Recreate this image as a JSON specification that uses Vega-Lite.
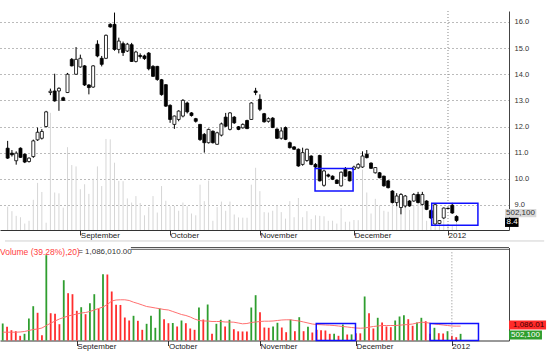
{
  "$schema": "https://vega.github.io/schema/vega-lite/v6.json",
  "background": "white",
  "padding": {"left": 0, "top": 10, "right": 0, "bottom": 0},
  "config": {"font": "Liberation Sans", "view": {"stroke": null}, "axis": {"labelFont": "Liberation Sans"}},
  "spacing": 4.5,
  "datasets": {
    "px": [
      {"i":0,"o":11.17,"h":11.45,"l":10.76,"c":10.79,"v":1282,"vc":"up","ma":626},
      {"i":1,"o":10.98,"h":11.1,"l":10.85,"c":10.92,"v":1033,"vc":"down","ma":626},
      {"i":2,"o":10.69,"h":11.05,"l":10.54,"c":10.98,"v":777,"vc":"down","ma":626},
      {"i":3,"o":11.17,"h":11.2,"l":10.8,"c":10.82,"v":701,"vc":"down","ma":626},
      {"i":4,"o":10.94,"h":10.97,"l":10.6,"c":10.64,"v":354,"vc":"down","ma":641},
      {"i":5,"o":10.66,"h":10.82,"l":10.62,"c":10.79,"v":505,"vc":"up","ma":679},
      {"i":6,"o":10.85,"h":11.5,"l":10.8,"c":11.45,"v":1659,"vc":"up","ma":754},
      {"i":7,"o":11.49,"h":11.96,"l":11.45,"c":11.78,"v":2586,"vc":"up","ma":829},
      {"i":8,"o":11.55,"h":11.9,"l":11.5,"c":11.81,"v":2089,"vc":"down","ma":867},
      {"i":9,"o":12.0,"h":12.6,"l":11.96,"c":12.56,"v":400,"vc":"down","ma":943},
      {"i":10,"o":13.3,"h":13.45,"l":13.2,"c":13.35,"v":6432,"vc":"up","ma":1131},
      {"i":11,"o":13.36,"h":14.02,"l":12.95,"c":12.98,"v":2058,"vc":"down","ma":1304},
      {"i":12,"o":13.36,"h":13.5,"l":12.6,"c":13.46,"v":2013,"vc":"down","ma":1470},
      {"i":13,"o":13.1,"h":13.14,"l":12.98,"c":13.0,"v":1229,"vc":"down","ma":1621},
      {"i":14,"o":13.3,"h":14.05,"l":13.28,"c":14.0,"v":4547,"vc":"up","ma":1734},
      {"i":15,"o":14.57,"h":14.62,"l":14.3,"c":14.32,"v":3566,"vc":"down","ma":1847},
      {"i":16,"o":14.0,"h":15.04,"l":13.98,"c":14.57,"v":3491,"vc":"down","ma":1923},
      {"i":17,"o":14.28,"h":14.75,"l":14.25,"c":14.61,"v":2239,"vc":"down","ma":1998},
      {"i":18,"o":14.32,"h":14.35,"l":13.55,"c":13.59,"v":2511,"vc":"up","ma":2074},
      {"i":19,"o":13.59,"h":13.62,"l":13.23,"c":13.49,"v":1983,"vc":"down","ma":2111},
      {"i":20,"o":13.51,"h":14.35,"l":13.48,"c":14.32,"v":2812,"vc":"up","ma":2187},
      {"i":21,"o":15.15,"h":15.3,"l":14.65,"c":14.7,"v":3491,"vc":"up","ma":2300},
      {"i":22,"o":14.61,"h":14.7,"l":14.3,"c":14.38,"v":2413,"vc":"down","ma":2413},
      {"i":23,"o":14.61,"h":15.52,"l":14.58,"c":15.49,"v":4999,"vc":"up","ma":2526},
      {"i":24,"o":15.91,"h":15.95,"l":15.78,"c":15.81,"v":4976,"vc":"down","ma":2714},
      {"i":25,"o":15.91,"h":16.36,"l":14.9,"c":14.95,"v":3695,"vc":"down","ma":2978},
      {"i":26,"o":14.95,"h":15.4,"l":14.8,"c":15.27,"v":2692,"vc":"down","ma":3054},
      {"i":27,"o":15.17,"h":15.25,"l":14.7,"c":14.83,"v":2680,"vc":"down","ma":3069},
      {"i":28,"o":14.89,"h":15.2,"l":14.85,"c":15.15,"v":1734,"vc":"down","ma":3069},
      {"i":29,"o":15.13,"h":15.2,"l":14.47,"c":14.49,"v":1508,"vc":"down","ma":3016},
      {"i":30,"o":14.49,"h":14.9,"l":14.45,"c":14.85,"v":1862,"vc":"up","ma":2888},
      {"i":31,"o":14.72,"h":14.8,"l":14.6,"c":14.68,"v":1485,"vc":"down","ma":2790},
      {"i":32,"o":14.7,"h":14.75,"l":14.55,"c":14.6,"v":807,"vc":"down","ma":2677},
      {"i":33,"o":14.81,"h":14.85,"l":14.15,"c":14.21,"v":1259,"vc":"up","ma":2564},
      {"i":34,"o":14.3,"h":14.35,"l":13.9,"c":13.92,"v":1862,"vc":"up","ma":2511},
      {"i":35,"o":14.3,"h":14.32,"l":13.75,"c":13.8,"v":958,"vc":"up","ma":2451},
      {"i":36,"o":13.79,"h":13.82,"l":13.18,"c":13.22,"v":2413,"vc":"up","ma":2398},
      {"i":37,"o":13.6,"h":13.62,"l":12.75,"c":12.78,"v":1606,"vc":"down","ma":2337},
      {"i":38,"o":12.81,"h":12.85,"l":12.14,"c":12.27,"v":1304,"vc":"down","ma":2300},
      {"i":39,"o":12.08,"h":12.42,"l":11.91,"c":12.4,"v":1320,"vc":"up","ma":2187},
      {"i":40,"o":12.27,"h":12.62,"l":12.2,"c":12.59,"v":1056,"vc":"down","ma":2074},
      {"i":41,"o":12.4,"h":13.05,"l":12.35,"c":13.0,"v":1508,"vc":"up","ma":1960},
      {"i":42,"o":12.9,"h":12.95,"l":12.5,"c":12.56,"v":1304,"vc":"down","ma":1885},
      {"i":43,"o":12.52,"h":12.55,"l":12.38,"c":12.42,"v":905,"vc":"down","ma":1772},
      {"i":44,"o":12.3,"h":12.33,"l":12.15,"c":12.2,"v":807,"vc":"down","ma":1621},
      {"i":45,"o":12.08,"h":12.1,"l":11.45,"c":11.5,"v":2488,"vc":"up","ma":1508},
      {"i":46,"o":11.7,"h":11.75,"l":11.0,"c":11.38,"v":1583,"vc":"down","ma":1470},
      {"i":47,"o":11.38,"h":11.92,"l":11.35,"c":11.89,"v":2714,"vc":"up","ma":1470},
      {"i":48,"o":11.82,"h":11.85,"l":11.35,"c":11.38,"v":505,"vc":"down","ma":1433},
      {"i":49,"o":11.32,"h":11.8,"l":11.3,"c":11.76,"v":1259,"vc":"up","ma":1433},
      {"i":50,"o":11.67,"h":12.15,"l":11.62,"c":12.1,"v":1561,"vc":"up","ma":1433},
      {"i":51,"o":12.36,"h":12.52,"l":11.98,"c":12.01,"v":1056,"vc":"down","ma":1395},
      {"i":52,"o":11.89,"h":12.55,"l":11.85,"c":12.52,"v":1561,"vc":"up","ma":1395},
      {"i":53,"o":12.36,"h":12.4,"l":12.1,"c":12.14,"v":852,"vc":"down","ma":1380},
      {"i":54,"o":11.99,"h":12.02,"l":11.86,"c":11.89,"v":690,"vc":"down","ma":1320},
      {"i":55,"o":11.95,"h":12.12,"l":11.92,"c":12.08,"v":680,"vc":"down","ma":1259},
      {"i":56,"o":12.23,"h":12.26,"l":11.9,"c":11.92,"v":675,"vc":"down","ma":1282},
      {"i":57,"o":12.27,"h":12.93,"l":12.25,"c":12.9,"v":2488,"vc":"up","ma":1357},
      {"i":58,"o":13.36,"h":13.48,"l":13.2,"c":13.3,"v":3416,"vc":"up","ma":1395},
      {"i":59,"o":13.04,"h":13.23,"l":12.59,"c":12.66,"v":2134,"vc":"down","ma":1433},
      {"i":60,"o":12.49,"h":12.52,"l":12.15,"c":12.18,"v":980,"vc":"down","ma":1455},
      {"i":61,"o":12.2,"h":12.35,"l":12.15,"c":12.3,"v":958,"vc":"down","ma":1455},
      {"i":62,"o":12.32,"h":12.36,"l":11.94,"c":11.96,"v":1056,"vc":"up","ma":1470},
      {"i":63,"o":11.9,"h":11.93,"l":11.52,"c":11.55,"v":1335,"vc":"up","ma":1508},
      {"i":64,"o":11.55,"h":11.96,"l":11.5,"c":11.83,"v":980,"vc":"down","ma":1546},
      {"i":65,"o":11.96,"h":12.0,"l":11.48,"c":11.51,"v":626,"vc":"down","ma":1561},
      {"i":66,"o":11.38,"h":11.42,"l":11.16,"c":11.19,"v":1583,"vc":"up","ma":1561},
      {"i":67,"o":11.22,"h":11.25,"l":11.1,"c":11.13,"v":701,"vc":"down","ma":1508},
      {"i":68,"o":11.13,"h":11.16,"l":10.46,"c":10.49,"v":1757,"vc":"up","ma":1470},
      {"i":69,"o":10.55,"h":11.19,"l":10.5,"c":11.0,"v":701,"vc":"down","ma":1395},
      {"i":70,"o":10.7,"h":11.15,"l":10.65,"c":11.13,"v":1033,"vc":"up","ma":1320},
      {"i":71,"o":10.87,"h":10.9,"l":10.52,"c":10.55,"v":603,"vc":"down","ma":1244},
      {"i":72,"o":10.55,"h":10.6,"l":10.4,"c":10.45,"v":807,"vc":"down","ma":1206},
      {"i":73,"o":10.89,"h":10.92,"l":9.9,"c":9.92,"v":777,"vc":"down","ma":1191},
      {"i":74,"o":9.75,"h":10.35,"l":9.7,"c":10.3,"v":754,"vc":"down","ma":1169},
      {"i":75,"o":10.15,"h":10.2,"l":10.05,"c":10.1,"v":505,"vc":"down","ma":1154},
      {"i":76,"o":10.1,"h":10.13,"l":9.95,"c":9.98,"v":510,"vc":"up","ma":1131},
      {"i":77,"o":9.95,"h":9.97,"l":9.8,"c":9.82,"v":354,"vc":"down","ma":1093},
      {"i":78,"o":9.73,"h":10.28,"l":9.7,"c":10.25,"v":1206,"vc":"up","ma":1056},
      {"i":79,"o":10.36,"h":10.45,"l":10.08,"c":10.1,"v":452,"vc":"down","ma":1018},
      {"i":80,"o":10.27,"h":10.3,"l":9.9,"c":9.92,"v":460,"vc":"up","ma":980},
      {"i":81,"o":10.36,"h":10.5,"l":10.33,"c":10.45,"v":550,"vc":"down","ma":943},
      {"i":82,"o":10.42,"h":10.6,"l":10.38,"c":10.55,"v":540,"vc":"down","ma":927},
      {"i":83,"o":10.45,"h":11.05,"l":10.42,"c":10.87,"v":3318,"vc":"up","ma":943},
      {"i":84,"o":10.94,"h":11.1,"l":10.78,"c":10.81,"v":2058,"vc":"down","ma":1003},
      {"i":85,"o":10.6,"h":10.63,"l":10.38,"c":10.4,"v":905,"vc":"down","ma":1056},
      {"i":86,"o":10.23,"h":10.45,"l":10.2,"c":10.43,"v":1712,"vc":"up","ma":1093},
      {"i":87,"o":10.23,"h":10.26,"l":10.02,"c":10.04,"v":1357,"vc":"down","ma":1131},
      {"i":88,"o":10.1,"h":10.12,"l":9.7,"c":9.73,"v":1056,"vc":"down","ma":1131},
      {"i":89,"o":9.92,"h":9.95,"l":9.63,"c":9.66,"v":1003,"vc":"down","ma":1131},
      {"i":90,"o":9.53,"h":9.56,"l":9.06,"c":9.09,"v":1508,"vc":"up","ma":1131},
      {"i":91,"o":9.09,"h":9.45,"l":8.95,"c":9.34,"v":1810,"vc":"up","ma":1154},
      {"i":92,"o":8.9,"h":9.45,"l":8.64,"c":9.4,"v":1908,"vc":"up","ma":1184},
      {"i":93,"o":8.96,"h":9.38,"l":8.9,"c":9.34,"v":1606,"vc":"down","ma":1206},
      {"i":94,"o":9.15,"h":9.18,"l":8.93,"c":8.96,"v":1108,"vc":"down","ma":1244},
      {"i":95,"o":9.15,"h":9.45,"l":9.12,"c":9.4,"v":1357,"vc":"up","ma":1320},
      {"i":96,"o":9.4,"h":9.5,"l":9.06,"c":9.09,"v":1712,"vc":"up","ma":1380},
      {"i":97,"o":9.02,"h":9.5,"l":8.98,"c":9.4,"v":1455,"vc":"down","ma":1357},
      {"i":98,"o":9.15,"h":9.18,"l":8.8,"c":8.83,"v":505,"vc":"down","ma":1304},
      {"i":99,"o":8.78,"h":8.82,"l":8.47,"c":8.5,"v":958,"vc":"up","ma":1244},
      {"i":100,"o":8.27,"h":9.05,"l":8.25,"c":9.01,"v":550,"vc":"down","ma":1206},
      {"i":101,"o":8.29,"h":8.42,"l":8.27,"c":8.4,"v":528,"vc":"down","ma":1169},
      {"i":102,"o":8.5,"h":8.9,"l":8.47,"c":8.88,"v":701,"vc":"up","ma":1131},
      {"i":103,"o":8.87,"h":8.9,"l":8.84,"c":8.86,"v":354,"vc":"down","ma":1093},
      {"i":104,"o":8.99,"h":9.08,"l":8.66,"c":8.69,"v":249,"vc":"down","ma":1086},
      {"i":105,"o":8.56,"h":8.6,"l":8.35,"c":8.4,"v":502,"vc":"up","ma":1086}
    ],
    "pbox": [
      {"i0": 71.9, "i1": 80.8, "lo": 9.53, "hi": 10.39},
      {"i0": 99.2, "i1": 110.0, "lo": 8.22, "hi": 9.06}
    ],
    "vbox": [
      {"i0": 71.9, "i1": 80.9, "lo": 0, "hi": 1280},
      {"i0": 98.0, "i1": 109.1, "lo": 0, "hi": 1280}
    ]
  },
  "vconcat": [
    {
      "width": 509,
      "height": 219,
      "data": {"name": "px"},
      "encoding": {
        "x": {
          "field": "i", "type": "quantitative",
          "scale": {"domain": [-0.62, 116.1], "nice": false, "zero": false},
          "axis": {
            "values": [17, 38, 59, 81, 103],
            "labelExpr": "datum.value == 17 ? 'September' : datum.value == 38 ? 'October' : datum.value == 59 ? 'November' : datum.value == 81 ? 'December' : '2012'",
            "labelAlign": "left", "labelDx": 1, "labelBaseline": "top", "labelPadding": -4,
            "tickSize": 5, "tickColor": "#333", "domainColor": "#333",
            "labelFontSize": 8, "labelColor": "#222", "grid": false, "title": null,
            "labelFlush": false, "labelOverlap": false
          }
        }
      },
      "resolve": {"scale": {"y": "independent"}},
      "layer": [
        {
          "mark": {"type": "rule", "color": "#d6d6d6", "strokeWidth": 1},
          "encoding": {
            "y": {"field": "v", "type": "quantitative", "scale": {"domain": [0, 12023], "nice": false, "zero": true}, "axis": null},
            "y2": {"datum": 0}
          }
        },
        {
          "mark": {"type": "rule", "color": "#000", "strokeWidth": 1},
          "encoding": {
            "y": {
              "field": "l", "type": "quantitative",
              "scale": {"domain": [8.04, 16.42], "nice": false, "zero": false},
              "axis": {
                "orient": "right", "values": [9, 10, 11, 12, 13, 14, 15, 16], "format": ".1f",
                "grid": true, "gridDash": [1, 3], "gridColor": "#777", "gridWidth": 1,
                "ticks": false, "labelPadding": 5, "labelFontSize": 7.5, "labelColor": "#333",
                "domainColor": "#444", "title": null
              }
            },
            "y2": {"field": "h"}
          }
        },
        {
          "mark": {"type": "bar", "width": 3, "stroke": "#000", "strokeWidth": 0.8},
          "encoding": {
            "y": {"field": "o", "type": "quantitative", "scale": {"domain": [8.04, 16.42], "nice": false, "zero": false}, "axis": null},
            "y2": {"field": "c"},
            "fill": {"condition": {"test": "datum.c >= datum.o", "value": "#ffffff"}, "value": "#000000"}
          }
        },
        {
          "transform": [{"filter": "datum.i == 103"}],
          "mark": {"type": "rule", "color": "#888", "strokeDash": [1, 2], "strokeWidth": 1},
          "encoding": {}
        },
        {
          "data": {"name": "pbox"},
          "mark": {"type": "rect", "fill": null, "stroke": "#1010ff", "strokeWidth": 1.5},
          "encoding": {
            "x": {"field": "i0", "type": "quantitative"},
            "x2": {"field": "i1"},
            "y": {"field": "lo", "type": "quantitative", "scale": {"domain": [8.04, 16.42], "nice": false, "zero": false}, "axis": null},
            "y2": {"field": "hi"}
          }
        },
        {
          "transform": [{"filter": "datum.i == 105"}],
          "mark": {"type": "rule", "color": "#d0d0d0", "strokeWidth": 1},
          "encoding": {
            "x": {"datum": -0.62}, "x2": {"datum": 125.5},
            "y": {"datum": 7.62, "type": "quantitative", "scale": {"domain": [8.04, 16.42], "nice": false, "zero": false}, "axis": null}
          }
        },
        {
          "transform": [{"filter": "datum.i == 105"}],
          "mark": {"type": "rect", "fill": "#d9d9d9"},
          "encoding": {
            "x": {"datum": 116.33}, "x2": {"datum": 123.66},
            "y": {"datum": 8.845, "type": "quantitative", "scale": {"domain": [8.04, 16.42], "nice": false, "zero": false}, "axis": null},
            "y2": {"datum": 8.527}
          }
        },
        {
          "transform": [{"filter": "datum.i == 105"}],
          "mark": {"type": "text", "text": "502,100", "align": "left", "baseline": "middle", "fontSize": 8, "color": "#333", "dx": 1},
          "encoding": {
            "x": {"datum": 116.33},
            "y": {"datum": 8.681, "type": "quantitative", "scale": {"domain": [8.04, 16.42], "nice": false, "zero": false}, "axis": null}
          }
        },
        {
          "transform": [{"filter": "datum.i == 105"}],
          "mark": {"type": "rect", "fill": "#000"},
          "encoding": {
            "x": {"datum": 116.33}, "x2": {"datum": 119.5},
            "y": {"datum": 8.509, "type": "quantitative", "scale": {"domain": [8.04, 16.42], "nice": false, "zero": false}, "axis": null},
            "y2": {"datum": 8.157}
          }
        },
        {
          "transform": [{"filter": "datum.i == 105"}],
          "mark": {"type": "text", "text": "8.4", "align": "left", "baseline": "middle", "fontSize": 8, "color": "#fff", "dx": 1.5},
          "encoding": {
            "x": {"datum": 116.33},
            "y": {"datum": 8.332, "type": "quantitative", "scale": {"domain": [8.04, 16.42], "nice": false, "zero": false}, "axis": null}
          }
        }
      ]
    },
    {
      "width": 509,
      "height": 93,
      "data": {"name": "px"},
      "encoding": {
        "x": {
          "field": "i", "type": "quantitative",
          "scale": {"domain": [-0.62, 116.1], "nice": false, "zero": false},
          "axis": {
            "values": [17, 38, 59, 81, 103],
            "labelExpr": "datum.value == 17 ? 'September' : datum.value == 38 ? 'October' : datum.value == 59 ? 'November' : datum.value == 81 ? 'December' : '2012'",
            "labelAlign": "left", "labelDx": 1, "labelBaseline": "top", "labelPadding": -3,
            "tickSize": 5, "tickColor": "#333", "domainColor": "#333",
            "labelFontSize": 8, "labelColor": "#222", "grid": false, "title": null,
            "labelFlush": false, "labelOverlap": false
          }
        },
        "y": {
          "field": "v", "type": "quantitative",
          "scale": {"domain": [0, 7012], "nice": false, "zero": true},
          "axis": {"orient": "right", "labels": false, "ticks": false, "grid": false, "title": null, "domainColor": "#444"}
        }
      },
      "layer": [
        {
          "mark": {"type": "rule", "strokeWidth": 1.8},
          "encoding": {
            "y2": {"datum": 0},
            "color": {"field": "vc", "type": "nominal", "scale": {"domain": ["up", "down"], "range": ["#2f9e2f", "#ff2d2d"]}, "legend": null}
          }
        },
        {
          "mark": {"type": "line", "color": "#ff7070", "strokeWidth": 1},
          "encoding": {"y": {"field": "ma", "type": "quantitative"}}
        },
        {
          "transform": [{"filter": "datum.i == 103"}],
          "mark": {"type": "rule", "color": "#888", "strokeDash": [1, 2], "strokeWidth": 1},
          "encoding": {"y": {"datum": 6650}, "y2": {"datum": 0}}
        },
        {
          "data": {"name": "vbox"},
          "mark": {"type": "rect", "fill": null, "stroke": "#1010ff", "strokeWidth": 1.5},
          "encoding": {
            "x": {"field": "i0", "type": "quantitative"},
            "x2": {"field": "i1"},
            "y": {"field": "lo", "type": "quantitative"},
            "y2": {"field": "hi"}
          }
        },
        {
          "transform": [{"filter": "datum.i == 105"}],
          "mark": {"type": "rule", "color": "#555", "strokeWidth": 1},
          "encoding": {"x": {"datum": 29.4}, "x2": {"datum": 116.1}, "y": {"datum": 7012}}
        },
        {
          "transform": [{"filter": "datum.i == 105"}],
          "mark": {"type": "rule", "color": "#555", "strokeWidth": 1},
          "encoding": {"x": {"datum": 29.4}, "x2": {"datum": 116.1}, "y": {"datum": 6876}}
        },
        {
          "transform": [{"filter": "datum.i == 105"}],
          "mark": {"type": "text", "text": "Volume (39.28%),20)", "align": "left", "baseline": "middle", "fontSize": 8.5, "color": "#ff4040"},
          "encoding": {"x": {"datum": -0.62}, "y": {"datum": 6710}}
        },
        {
          "transform": [{"filter": "datum.i == 105"}],
          "mark": {"type": "text", "text": "= 1,086,010.00", "align": "left", "baseline": "middle", "fontSize": 8, "color": "#333"},
          "encoding": {"x": {"datum": 17.3}, "y": {"datum": 6710}}
        },
        {
          "transform": [{"filter": "datum.i == 105"}],
          "mark": {"type": "rect", "fill": "#ff2a2a"},
          "encoding": {"x": {"datum": 116.1}, "x2": {"datum": 124.6}, "y": {"datum": 1508}, "y2": {"datum": 829}}
        },
        {
          "transform": [{"filter": "datum.i == 105"}],
          "mark": {"type": "text", "text": "1,086.01", "align": "left", "baseline": "middle", "fontSize": 8, "color": "#400000", "dx": 4},
          "encoding": {"x": {"datum": 116.1}, "y": {"datum": 1168}}
        },
        {
          "transform": [{"filter": "datum.i == 105"}],
          "mark": {"type": "rect", "fill": "#2f9e2f"},
          "encoding": {"x": {"datum": 116.1}, "x2": {"datum": 123.66}, "y": {"datum": 754}, "y2": {"datum": 75}}
        },
        {
          "transform": [{"filter": "datum.i == 105"}],
          "mark": {"type": "text", "text": "502,100", "align": "left", "baseline": "middle", "fontSize": 8, "color": "#fff", "dx": 2},
          "encoding": {"x": {"datum": 116.1}, "y": {"datum": 415}}
        }
      ]
    }
  ]
}
